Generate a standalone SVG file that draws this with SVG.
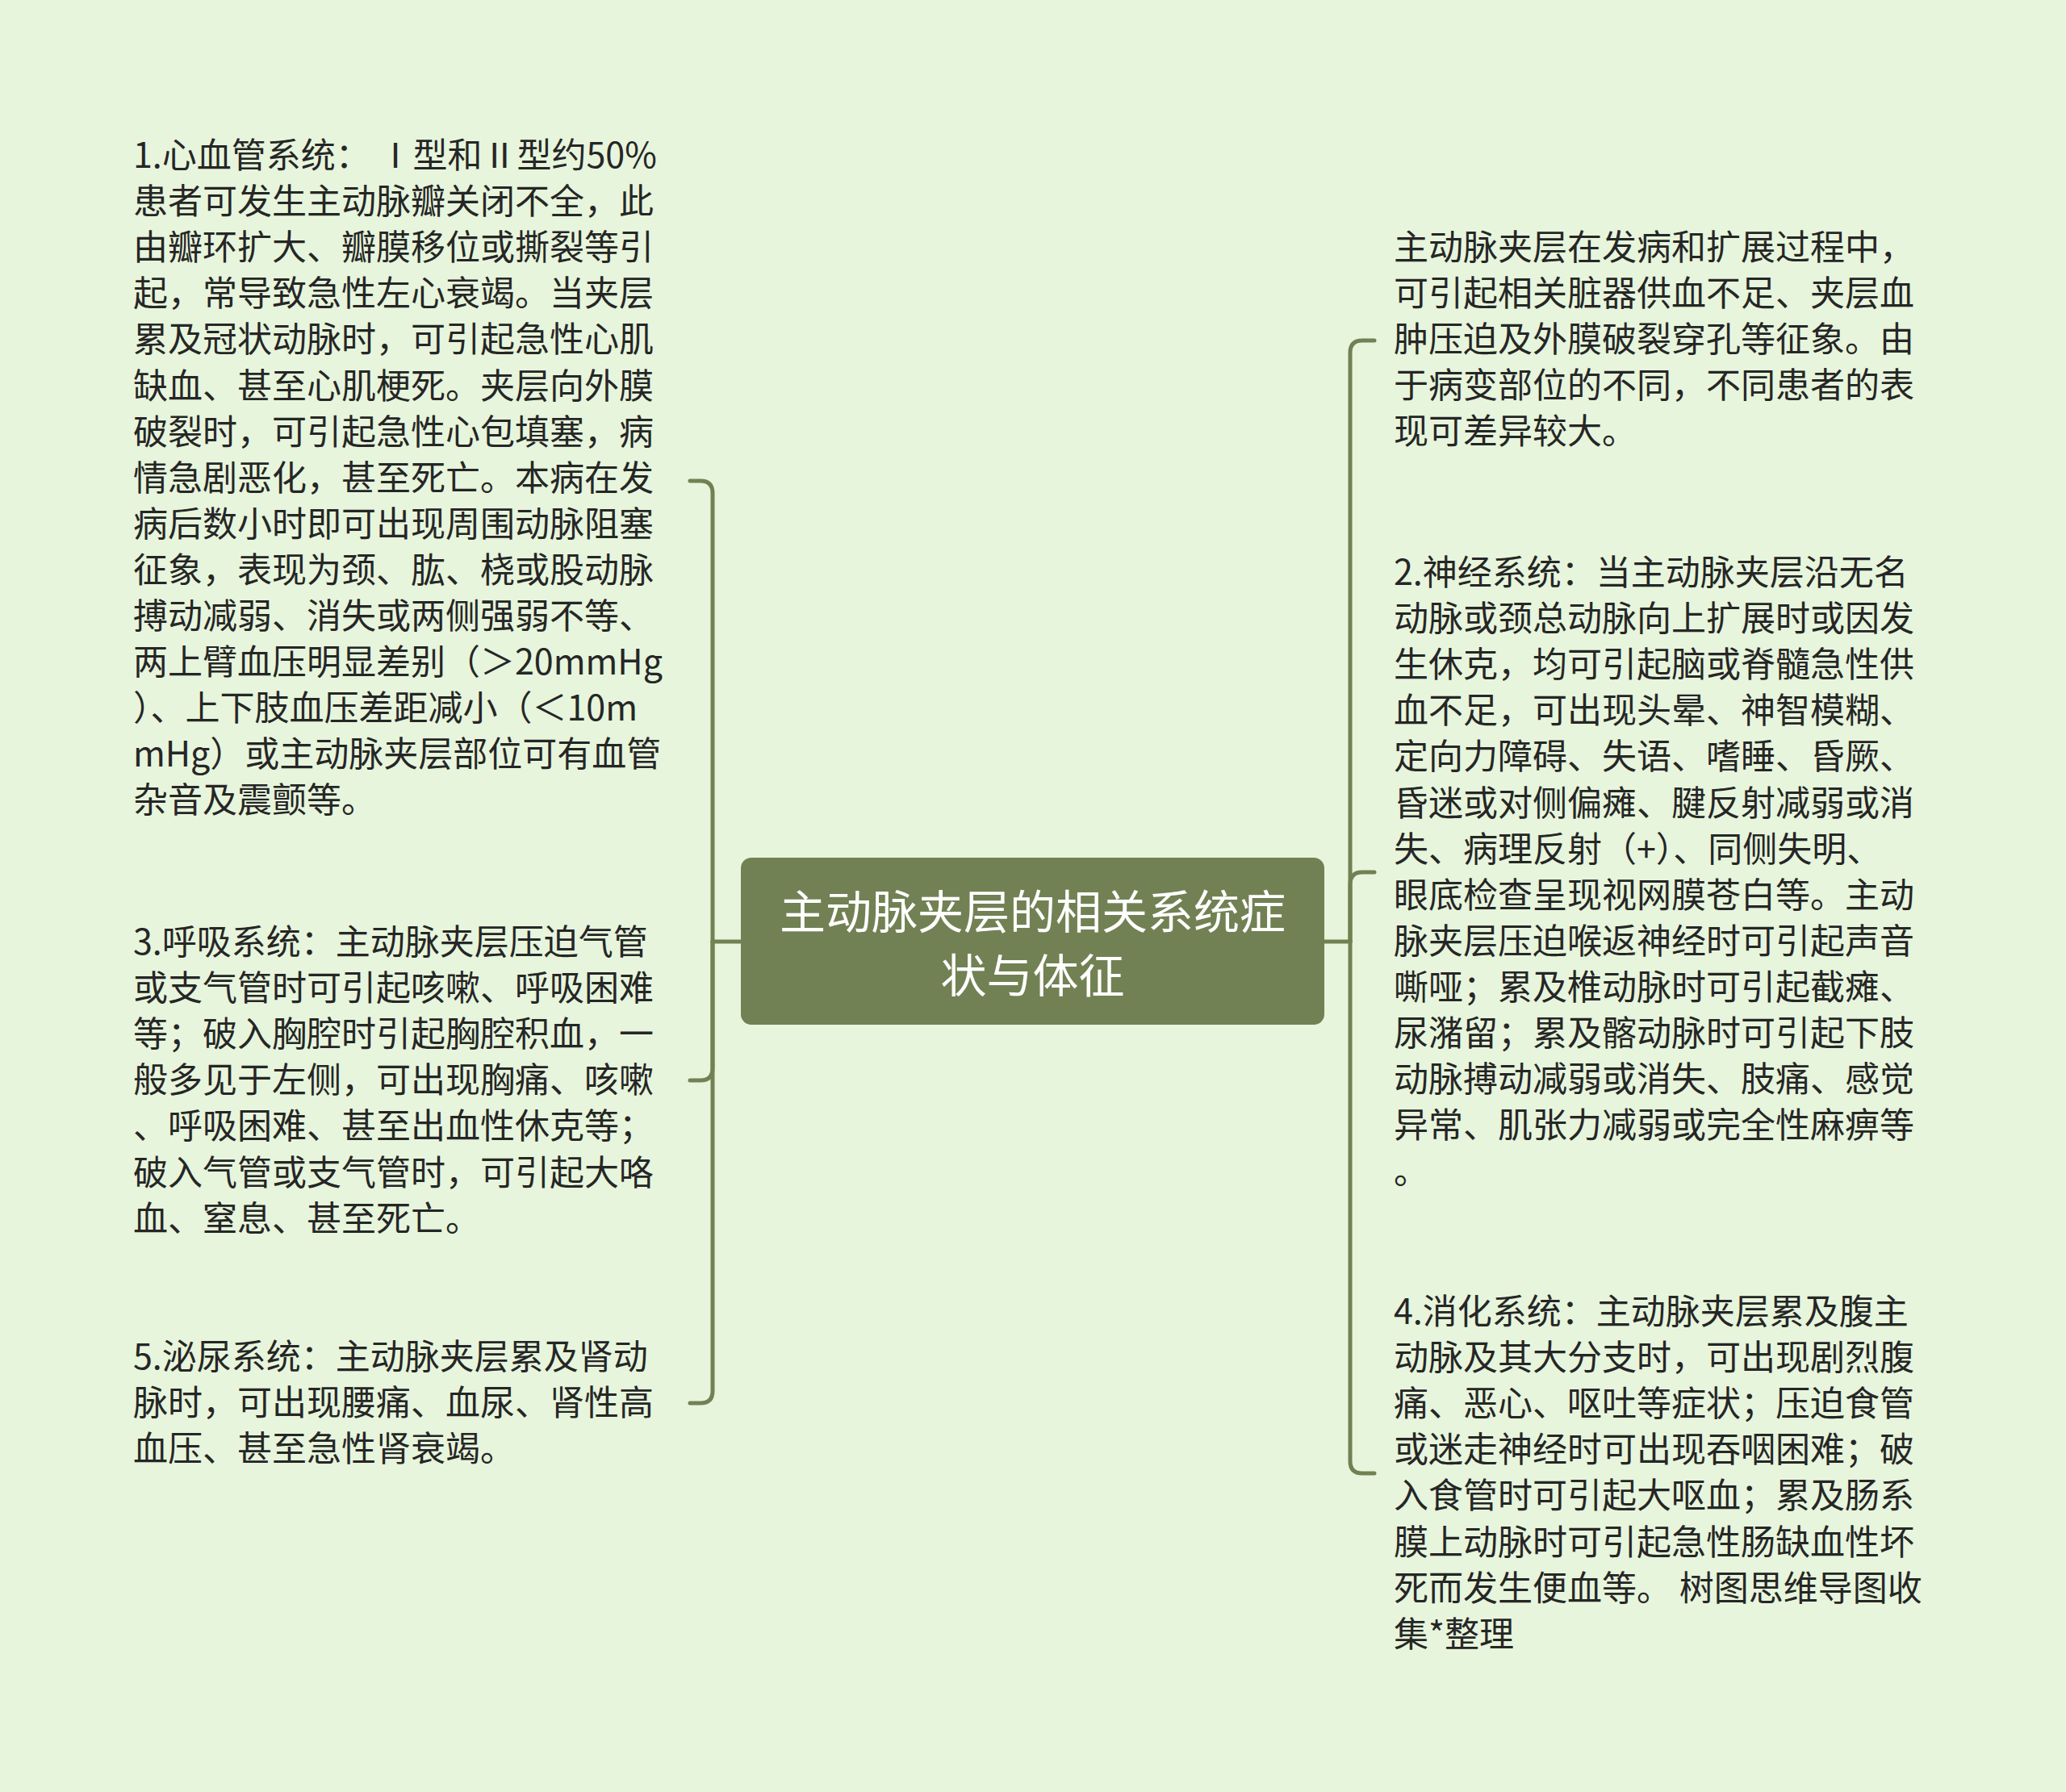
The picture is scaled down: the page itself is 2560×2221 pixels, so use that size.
<svg xmlns="http://www.w3.org/2000/svg" width="2560" height="2221" viewBox="0 0 2560 2221">
<style>
.bg{fill:#e7f5dc}
.t{font-family:"Noto Sans CJK SC","Noto Sans",sans-serif;font-size:43px;fill:#262626}
.ct{font-family:"Noto Sans CJK SC","Noto Sans",sans-serif;font-size:57px;fill:#ffffff;text-anchor:middle}
.box{fill:#728153}
.ln{fill:none;stroke:#728153;stroke-width:5;stroke-linecap:round}
</style>
<rect class="bg" x="0" y="0" width="2560" height="2221"/>
<g id="connectors">
<path class="ln" d="M918,1167 L883,1167"/>
<path class="ln" d="M883,1167 L883,611 Q883,596 868,596 L855,596"/>
<path class="ln" d="M883,1167 L883,1324 Q883,1339 868,1339 L855,1339"/>
<path class="ln" d="M883,1167 L883,1724 Q883,1739 868,1739 L855,1739"/>
<path class="ln" d="M1641,1167 L1673,1167"/>
<path class="ln" d="M1673,1167 L1673,437 Q1673,422 1688,422 L1703,422"/>
<path class="ln" d="M1673,1167 L1673,1096 Q1673,1081 1688,1081 L1703,1081"/>
<path class="ln" d="M1673,1167 L1673,1811 Q1673,1826 1688,1826 L1703,1826"/>
</g>
<g id="center">
<rect class="box" x="918" y="1063" width="723" height="207" rx="13"/>
<text class="ct" x="1279.5" y="1151">主动脉夹层的相关系统症</text>
<text class="ct" x="1279.5" y="1230">状与体征</text>
</g>
<g id="node1">
<text class="t" x="165" y="208">
<tspan x="165">1.心血管系统： Ⅰ型和Ⅱ型约50%</tspan>
<tspan x="165" dy="57.1">患者可发生主动脉瓣关闭不全，此</tspan>
<tspan x="165" dy="57.1">由瓣环扩大、瓣膜移位或撕裂等引</tspan>
<tspan x="165" dy="57.1">起，常导致急性左心衰竭。当夹层</tspan>
<tspan x="165" dy="57.1">累及冠状动脉时，可引起急性心肌</tspan>
<tspan x="165" dy="57.1">缺血、甚至心肌梗死。夹层向外膜</tspan>
<tspan x="165" dy="57.1">破裂时，可引起急性心包填塞，病</tspan>
<tspan x="165" dy="57.1">情急剧恶化，甚至死亡。本病在发</tspan>
<tspan x="165" dy="57.1">病后数小时即可出现周围动脉阻塞</tspan>
<tspan x="165" dy="57.1">征象，表现为颈、肱、桡或股动脉</tspan>
<tspan x="165" dy="57.1">搏动减弱、消失或两侧强弱不等、</tspan>
<tspan x="165" dy="57.1">两上臂血压明显差别（＞20mmHg</tspan>
<tspan x="165" dy="57.1">）、上下肢血压差距减小（＜10m</tspan>
<tspan x="165" dy="57.1">mHg）或主动脉夹层部位可有血管</tspan>
<tspan x="165" dy="57.1">杂音及震颤等。</tspan>
</text>
</g>
<g id="node3">
<text class="t" x="165" y="1183">
<tspan x="165">3.呼吸系统：主动脉夹层压迫气管</tspan>
<tspan x="165" dy="57.1">或支气管时可引起咳嗽、呼吸困难</tspan>
<tspan x="165" dy="57.1">等；破入胸腔时引起胸腔积血，一</tspan>
<tspan x="165" dy="57.1">般多见于左侧，可出现胸痛、咳嗽</tspan>
<tspan x="165" dy="57.1">、呼吸困难、甚至出血性休克等；</tspan>
<tspan x="165" dy="57.1">破入气管或支气管时，可引起大咯</tspan>
<tspan x="165" dy="57.1">血、窒息、甚至死亡。</tspan>
</text>
</g>
<g id="node5">
<text class="t" x="165" y="1697">
<tspan x="165">5.泌尿系统：主动脉夹层累及肾动</tspan>
<tspan x="165" dy="57.1">脉时，可出现腰痛、血尿、肾性高</tspan>
<tspan x="165" dy="57.1">血压、甚至急性肾衰竭。</tspan>
</text>
</g>
<g id="nodeA">
<text class="t" x="1727" y="322">
<tspan x="1727">主动脉夹层在发病和扩展过程中，</tspan>
<tspan x="1727" dy="57.1">可引起相关脏器供血不足、夹层血</tspan>
<tspan x="1727" dy="57.1">肿压迫及外膜破裂穿孔等征象。由</tspan>
<tspan x="1727" dy="57.1">于病变部位的不同，不同患者的表</tspan>
<tspan x="1727" dy="57.1">现可差异较大。</tspan>
</text>
</g>
<g id="node2">
<text class="t" x="1727" y="725">
<tspan x="1727">2.神经系统：当主动脉夹层沿无名</tspan>
<tspan x="1727" dy="57.1">动脉或颈总动脉向上扩展时或因发</tspan>
<tspan x="1727" dy="57.1">生休克，均可引起脑或脊髓急性供</tspan>
<tspan x="1727" dy="57.1">血不足，可出现头晕、神智模糊、</tspan>
<tspan x="1727" dy="57.1">定向力障碍、失语、嗜睡、昏厥、</tspan>
<tspan x="1727" dy="57.1">昏迷或对侧偏瘫、腱反射减弱或消</tspan>
<tspan x="1727" dy="57.1">失、病理反射（+）、同侧失明、</tspan>
<tspan x="1727" dy="57.1">眼底检查呈现视网膜苍白等。主动</tspan>
<tspan x="1727" dy="57.1">脉夹层压迫喉返神经时可引起声音</tspan>
<tspan x="1727" dy="57.1">嘶哑；累及椎动脉时可引起截瘫、</tspan>
<tspan x="1727" dy="57.1">尿潴留；累及髂动脉时可引起下肢</tspan>
<tspan x="1727" dy="57.1">动脉搏动减弱或消失、肢痛、感觉</tspan>
<tspan x="1727" dy="57.1">异常、肌张力减弱或完全性麻痹等</tspan>
<tspan x="1727" dy="57.1">。</tspan>
</text>
</g>
<g id="node4">
<text class="t" x="1727" y="1641">
<tspan x="1727">4.消化系统：主动脉夹层累及腹主</tspan>
<tspan x="1727" dy="57.1">动脉及其大分支时，可出现剧烈腹</tspan>
<tspan x="1727" dy="57.1">痛、恶心、呕吐等症状；压迫食管</tspan>
<tspan x="1727" dy="57.1">或迷走神经时可出现吞咽困难；破</tspan>
<tspan x="1727" dy="57.1">入食管时可引起大呕血；累及肠系</tspan>
<tspan x="1727" dy="57.1">膜上动脉时可引起急性肠缺血性坏</tspan>
<tspan x="1727" dy="57.1">死而发生便血等。 树图思维导图收</tspan>
<tspan x="1727" dy="57.1">集*整理</tspan>
</text>
</g>
</svg>
